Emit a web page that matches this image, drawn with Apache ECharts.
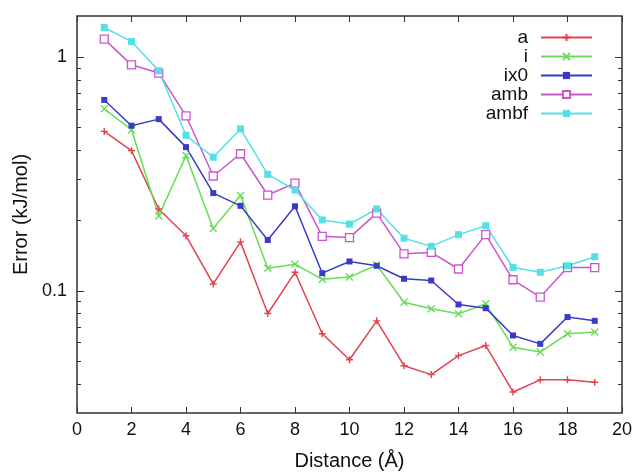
<!DOCTYPE html>
<html><head><meta charset="utf-8">
<script src="https://cdn.jsdelivr.net/npm/echarts@6/dist/echarts.min.js"></script>
<style>html,body{margin:0;padding:0;background:#fff}#c{width:636px;height:476px}</style>
</head><body><div id="c"></div>
<script>
const distances = [1,2,3,4,5,6,7,8,9,10,11,12,13,14,15,16,17,18,19];
const seriesNames = ['a','i','ix0','amb','ambf'];
const a    = [0.481,0.398,0.224,0.172,0.107,0.162,0.080,0.120,0.0655,0.0507,0.0744,0.0478,0.0438,0.0528,0.0583,0.0369,0.0416,0.0416,0.0406];
const i    = [0.601,0.489,0.209,0.379,0.185,0.256,0.125,0.130,0.112,0.1145,0.129,0.0894,0.0838,0.0797,0.088,0.0574,0.0547,0.0655,0.0666];
const ix0  = [0.656,0.509,0.543,0.412,0.262,0.231,0.165,0.230,0.119,0.1335,0.128,0.1126,0.1107,0.0874,0.0843,0.0644,0.0593,0.0772,0.0744];
const amb  = [1.194,0.927,0.855,0.561,0.310,0.386,0.257,0.289,0.171,0.169,0.215,0.144,0.146,0.124,0.174,0.1115,0.094,0.1258,0.1258];
const ambf = [1.339,1.166,0.874,0.463,0.373,0.493,0.315,0.270,0.201,0.193,0.224,0.168,0.155,0.174,0.190,0.1258,0.120,0.128,0.140];
const xTickLabels = [0,2,4,6,8,10,12,14,16,18,20];
const yMajorTicks = [0.1, 1];
const yMinorTicks = [0.04,0.05,0.06,0.07,0.08,0.09,0.2,0.3,0.4,0.5,0.6,0.7,0.8,0.9];

const FONT = "'Liberation Sans', Arial, sans-serif";
const colors = ['#e2434f','#66dd55','#3a3ac8','#cc55cc','#55e0e8'];
const symbols = [
  'path://M0,5L10,5M5,0L5,10',
  'path://M0,0L10,10M0,10L10,0',
  'rect',
  'rect',
  'rect'
];
const symbolSizes = [7,7,6,8,7];
const values = [a,i,ix0,amb,ambf];

const series = seriesNames.map((name,k)=>{
  const hollow = k===3;
  const stroked = k<2;
  return {
    name, type:'line',
    data: distances.map((d,j)=>[d, values[k][j]]),
    symbol: symbols[k], symbolSize: symbolSizes[k],
    showAllSymbol:true,
    lineStyle:{color:colors[k], width:1.5},
    itemStyle:{
      color: hollow ? '#ffffff' : (stroked ? 'transparent' : colors[k]),
      borderColor: colors[k],
      borderWidth: hollow ? 1.3 : (stroked ? 1.4 : 0)
    },
    emphasis:{disabled:true},
    animation:false
  };
});

const fmtY = v => (Math.abs(v-0.1)<1e-9 ? '0.1' : (Math.abs(v-1)<1e-9 ? '1' : ''));
const logAxisBase = {
  type:'log', logBase:10, min:0.03, max:1.5,
  axisLine:{show:false}, splitLine:{show:false}
};

const chart = echarts.init(document.getElementById('c'), null, {renderer:'canvas'});
chart.setOption({
  backgroundColor:'#ffffff',
  animation:false,
  grid:{left:77, right:14, top:16, bottom:62, show:true, borderColor:'#333', borderWidth:1.5, containLabel:false},
  legend:{
    orient:'vertical', align:'right', right:38, top:23,
    itemWidth:51, itemHeight:9, itemGap:0,
    textStyle:{fontFamily:FONT, fontSize:19, color:'#111', lineHeight:19, padding:[0,8,0,0]},
    data: seriesNames
  },
  xAxis:[
    {type:'value', min:0, max:20, interval:2, position:'bottom',
     name:'Distance (Å)', nameLocation:'middle', nameGap:38,
     nameTextStyle:{fontFamily:FONT, fontSize:20, color:'#111'},
     axisLine:{show:false}, splitLine:{show:false},
     axisTick:{inside:true, length:6, lineStyle:{color:'#333', width:1}},
     axisLabel:{fontFamily:FONT, fontSize:18, color:'#111', margin:8}},
    {type:'value', min:0, max:20, interval:2, position:'top',
     axisLine:{show:false}, splitLine:{show:false},
     axisTick:{inside:true, length:6, lineStyle:{color:'#333', width:1}},
     axisLabel:{show:false}}
  ],
  yAxis:[
    Object.assign({}, logAxisBase, {position:'left',
      name:'Error (kJ/mol)', nameLocation:'middle', nameGap:44,
      nameTextStyle:{fontFamily:FONT, fontSize:20, color:'#111'},
      axisTick:{inside:true, length:7, customValues:yMajorTicks, lineStyle:{color:'#333', width:1}},
      axisLabel:{fontFamily:FONT, fontSize:18, color:'#111', margin:10, customValues:yMajorTicks, formatter:fmtY}}),
    Object.assign({}, logAxisBase, {position:'left',
      axisTick:{inside:true, length:4, customValues:yMinorTicks, lineStyle:{color:'#333', width:1}},
      axisLabel:{show:false}}),
    Object.assign({}, logAxisBase, {position:'right',
      axisTick:{inside:true, length:7, customValues:yMajorTicks, lineStyle:{color:'#333', width:1}},
      axisLabel:{show:false}}),
    Object.assign({}, logAxisBase, {position:'right',
      axisTick:{inside:true, length:4, customValues:yMinorTicks, lineStyle:{color:'#333', width:1}},
      axisLabel:{show:false}})
  ],
  series
});
</script></body></html>
